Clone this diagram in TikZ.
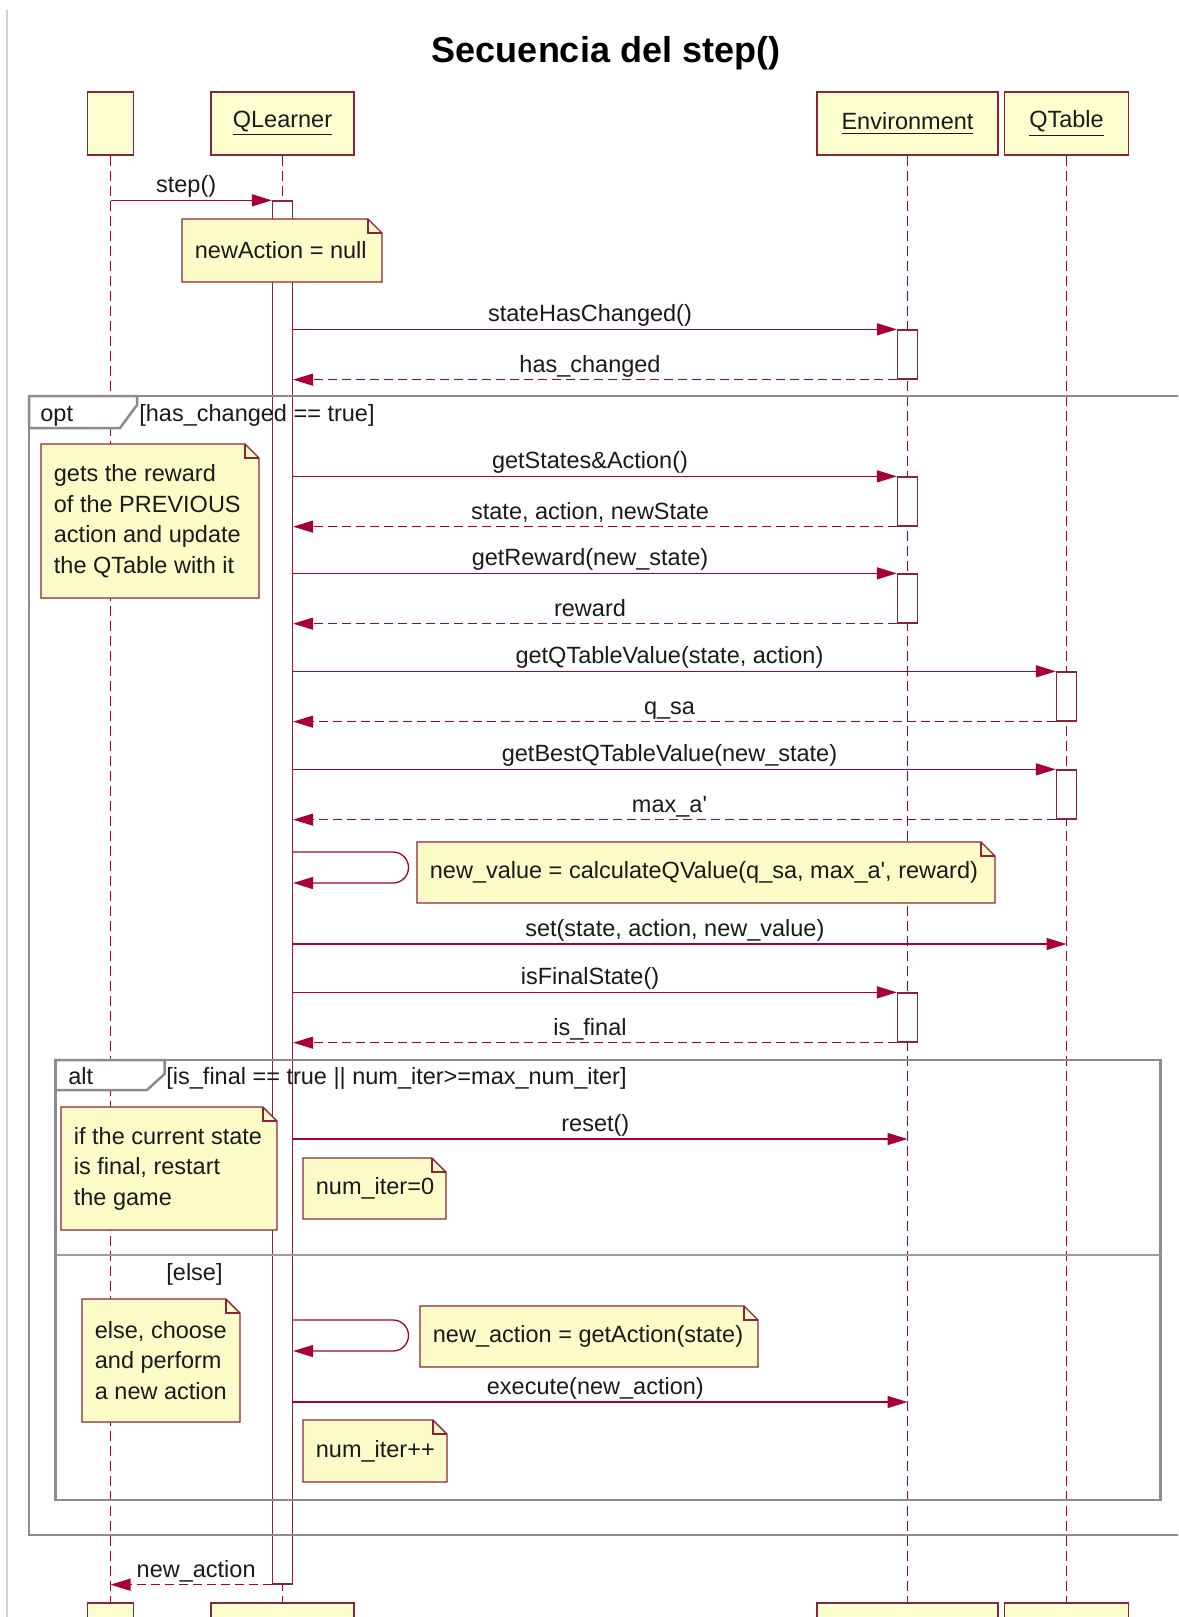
\documentclass[tikz,border=0pt]{standalone}
\usepackage{fontspec}
\setmainfont{Liberation Sans}
\usetikzlibrary{arrows.meta}

\definecolor{umlred}{HTML}{A80036}
\definecolor{umlborder}{HTML}{8A2536}
\definecolor{umlfill}{HTML}{FEFECE}
\definecolor{notefill}{HTML}{FDFCC9}
\definecolor{framegray}{HTML}{8C8C8C}
\definecolor{txt}{HTML}{1A1A1A}

\tikzset{
  base font/.style={font=\fontsize{11.75pt}{15.25pt}\selectfont, text=txt},
  participant/.style={base font, draw=umlborder, fill=umlfill, line width=0.75pt,
    minimum height=31.5pt, inner sep=0pt},
  lifeline/.style={draw=umlred, line width=0.55pt, dash pattern=on 5pt off 2.5pt},
  activation/.style={draw=umlborder, fill=white, line width=0.65pt,
    minimum width=10pt, inner sep=0pt},
  msg/.style={draw=umlred, line width=0.65pt, -{Triangle[length=10pt,width=6pt]}},
  reply/.style={msg, dash pattern=on 4.5pt off 2.5pt},
  lbl/.style={base font, anchor=base, inner sep=0pt, xshift=-2.5pt, yshift=3.75pt},
  frameline/.style={draw=framegray, line width=1.25pt},
  fragtab/.style={frameline, fill=white, line join=miter},
  notebox/.style={draw=umlborder, fill=notefill, line width=0.7pt, line join=miter},
  notetext/.style={base font, anchor=west, align=left, inner sep=0pt},
  plain/.style={base font, inner sep=0pt, anchor=base west},
}

% UML note with a folded corner: name, x1, y1, x2, y2, text
\newcommand\umlnote[6]{%
  \path[notebox] (#2,#3) -- ({#4-14},#3) -- (#4,{#3+14}) -- (#4,#5) -- (#2,#5) -- cycle;
  \draw[notebox, fill=none] ({#4-14},#3) -- ({#4-14},{#3+14}) -- (#4,{#3+14});
  \node[notetext] (#1) at ({#2+12.5},{(#3+#5)/2}) {#6};
}

\begin{document}
\begin{tikzpicture}[x=0.5pt,y=-0.5pt]
\useasboundingbox (0,0) rectangle (1178,1617);
\clip (0,0) rectangle (1178,1617);

% page edge
\draw[gray!35, line width=0.75pt] (7,10) -- (7,1617);

% title
\node[font=\bfseries\fontsize{18pt}{22pt}\selectfont, anchor=base, text=black, inner sep=0pt]
  (title) at (606,62) {Secuencia del step()};

% participants (head and foot)
\node[participant, minimum width=23pt]   (pA)   at (110.5,123.5) {};
\node[participant, minimum width=71.5pt] (pQL)  at (282.5,123.5) {\underline{QLearner}};
\node[participant, minimum width=90.5pt] (pEnv) at (907.5,123.5) {\underline{Environment}};
\node[participant, minimum width=62pt]   (pQT)  at (1066.5,123.5) {\underline{QTable}};

\node[participant, minimum width=23pt]   (pAb)   at (110.5,1634.5) {};
\node[participant, minimum width=71.5pt] (pQLb)  at (282.5,1634.5) {};
\node[participant, minimum width=90.5pt] (pEnvb) at (907.5,1634.5) {};
\node[participant, minimum width=62pt]   (pQTb)  at (1066.5,1634.5) {};

% lifelines
\draw[lifeline] (pA.south) -- (pAb.north);
\draw[lifeline] (pQL.south) -- (pQLb.north);
\draw[lifeline] (pEnv.south) -- (pEnvb.north);
\draw[lifeline] (pQT.south) -- (pQTb.north);

% activation bars
\node[activation, minimum height=691.5pt] (qact) at (282.5,892.5) {};
\node[activation, minimum height=24.5pt] (e1) at (907.5,354.5) {};
\node[activation, minimum height=24.5pt] (e2) at (907.5,501.5) {};
\node[activation, minimum height=24.5pt] (e3) at (907.5,598.5) {};
\node[activation, minimum height=24.5pt] (t1) at (1066.5,696.5) {};
\node[activation, minimum height=24.5pt] (t2) at (1066.5,794.5) {};
\node[activation, minimum height=24.5pt] (e4) at (907.5,1017.5) {};

% opt fragment
\draw[frameline] (1190,396) -- (29,396) -- (29,1535) -- (1190,1535);
\draw[fragtab] (29,396) -- (137,396) -- (137,405) -- (120,428) -- (29,428) -- cycle;
\node[plain] (optkw) at (40,421) {opt};
\node[plain] (optguard) at (139,421) {[has\_changed == true]};

% alt fragment
\draw[frameline] (55.5,1060) rectangle (1160.5,1500);
\draw[fragtab] (55.5,1060) -- (164.5,1060) -- (164.5,1074) -- (147,1090) -- (55.5,1090) -- cycle;
\node[plain] (altkw) at (68,1084) {alt};
\node[plain] (altguard) at (166,1084) {[is\_final == true || num\_iter>=max\_num\_iter]};
\draw[draw=framegray!85, line width=0.7pt] (55.5,1255) -- (1160.5,1255);
\node[plain] (elseguard) at (166,1280) {[else]};

% notes
\umlnote{nNull}{182}{219}{382}{282}{newAction = null}
\umlnote{nReward}{41}{444}{259}{598}{gets the reward\\of the PREVIOUS\\action and update\\the QTable with it}
\umlnote{nCalc}{417}{842}{995}{903}{new\_value = calculateQValue(q\_sa, max\_a\textquotesingle, reward)}
\umlnote{nFinal}{61}{1107}{277}{1230}{if the current state\\is final, restart\\the game}
\umlnote{nZero}{303}{1158}{446}{1219}{num\_iter=0}
\umlnote{nElse}{82}{1299}{240}{1422}{else, choose\\and perform\\a new action}
\umlnote{nGetAct}{420}{1306}{758}{1367}{new\_action = getAction(state)}
\umlnote{nInc}{303}{1420}{447}{1482}{num\_iter++}

% messages
\draw[msg] (pA.south |- qact.north) -- node[lbl]{step()} (qact.north west);

\draw[msg] (qact.east |- e1.north) -- node[lbl]{stateHasChanged()} (e1.north west);
\draw[reply] (e1.south west) -- node[lbl]{has\_changed} (qact.east |- e1.south);

\draw[msg] (qact.east |- e2.north) -- node[lbl]{getStates\&Action()} (e2.north west);
\draw[reply] (e2.south west) -- node[lbl]{state, action, newState} (qact.east |- e2.south);

\draw[msg] (qact.east |- e3.north) -- node[lbl]{getReward(new\_state)} (e3.north west);
\draw[reply] (e3.south west) -- node[lbl]{reward} (qact.east |- e3.south);

\draw[msg] (qact.east |- t1.north) -- node[lbl]{getQTableValue(state, action)} (t1.north west);
\draw[reply] (t1.south west) -- node[lbl]{q\_sa} (qact.east |- t1.south);

\draw[msg] (qact.east |- t2.north) -- node[lbl]{getBestQTableValue(new\_state)} (t2.north west);
\draw[reply] (t2.south west) -- node[lbl]{max\_a\textquotesingle} (qact.east |- t2.south);

\draw[msg] (qact.east |- 0,852) -- (393,852)
  arc[start angle=-90, end angle=90, radius=15.5] -- (qact.east |- 0,883);

\draw[msg] (qact.east |- 0,944) -- node[lbl]{set(state, action, new\_value)} (pQT.south |- 0,944);

\draw[msg] (qact.east |- e4.north) -- node[lbl]{isFinalState()} (e4.north west);
\draw[reply] (e4.south west) -- node[lbl]{is\_final} (qact.east |- e4.south);

\draw[msg] (qact.east |- 0,1139) -- node[lbl]{reset()} (pEnv.south |- 0,1139);

\draw[msg] (qact.east |- 0,1320) -- (393,1320)
  arc[start angle=-90, end angle=90, radius=15.5] -- (qact.east |- 0,1351);

\draw[msg] (qact.east |- 0,1402) -- node[lbl]{execute(new\_action)} (pEnv.south |- 0,1402);

\draw[reply] (qact.south west) -- node[lbl, xshift=5pt]{new\_action} (pA.south |- qact.south);
\end{tikzpicture}
\end{document}
